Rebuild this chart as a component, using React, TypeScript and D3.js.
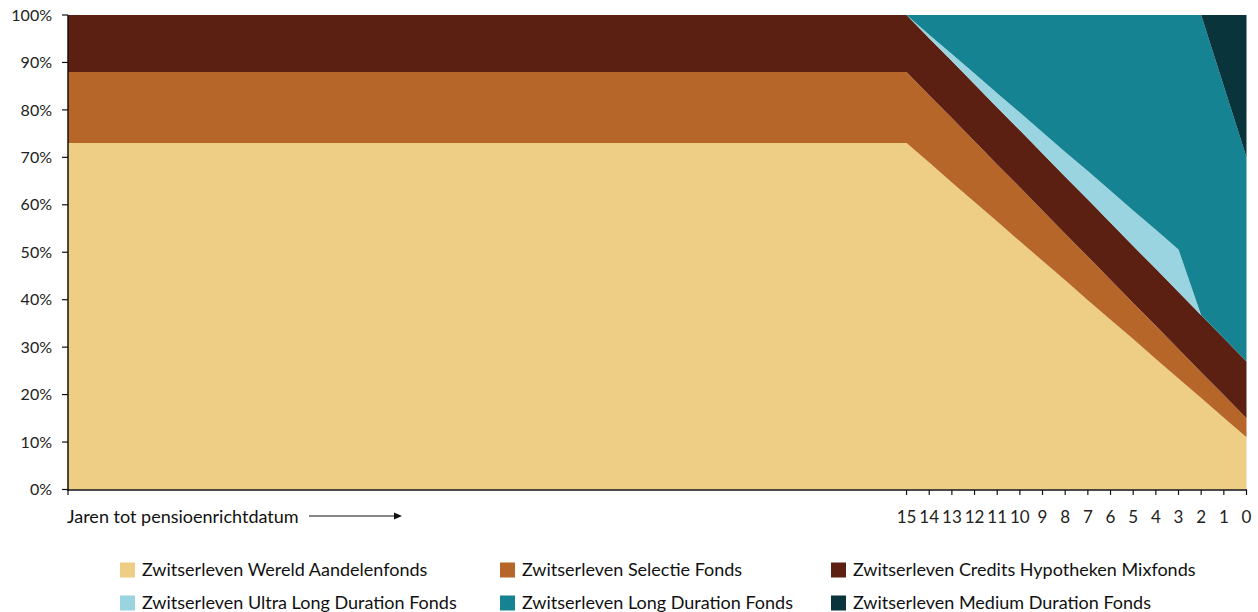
import React from "react";
import * as d3 from "d3";

const years = [52, 15, 14, 13, 12, 11, 10, 9, 8, 7, 6, 5, 4, 3, 2, 1, 0];
const wereld = [73, 73, 68.9, 64.7, 60.6, 56.5, 52.3, 48.2, 44.1, 39.9, 35.8, 31.7, 27.5, 23.4, 19.3, 15.1, 11];
const selectie = [15, 15, 14.2, 13.6, 12.8, 12, 11.4, 10.6, 9.8, 9.2, 8.4, 7.6, 7, 6.2, 5.4, 4.8, 4];
const credits = [12, 12, 12, 12, 12, 12, 12, 12, 12, 12, 12, 12, 12, 12, 12, 12, 12];
const ultraLong = [0, 0, 0.75, 1.5, 2.25, 3, 3.75, 4.5, 5.25, 6, 6.75, 7.5, 8.25, 9, 0, 0, 0];
const medium = [0, 0, 0, 0, 0, 0, 0, 0, 0, 0, 0, 0, 0, 0, 0, 15, 30];
const longDur = years.map(
  (_, i) => 100 - wereld[i] - selectie[i] - credits[i] - ultraLong[i] - medium[i]
);

const xTicks = [15, 14, 13, 12, 11, 10, 9, 8, 7, 6, 5, 4, 3, 2, 1, 0];
const yTicks = [0, 10, 20, 30, 40, 50, 60, 70, 80, 90, 100];

const seriesNames = [
  "Zwitserleven Wereld Aandelenfonds",
  "Zwitserleven Selectie Fonds",
  "Zwitserleven Credits Hypotheken Mixfonds",
  "Zwitserleven Ultra Long Duration Fonds",
  "Zwitserleven Long Duration Fonds",
  "Zwitserleven Medium Duration Fonds",
];
const colors = ["#EECD84", "#B66628", "#5B2012", "#9AD4E1", "#168393", "#0A343B"];
const keys = ["wereld", "selectie", "credits", "ultra", "long", "medium"];

export default function App() {
  const W = 1258;
  const H = 612;
  const x = d3.scaleLinear().domain([52, 0]).range([68, 1246.5]);
  const y = d3.scaleLinear().domain([0, 100]).range([489.5, 15]);

  const rows = years.map((yr, i) => ({
    year: yr,
    wereld: wereld[i],
    selectie: selectie[i],
    credits: credits[i],
    ultra: ultraLong[i],
    long: longDur[i],
    medium: medium[i],
  }));
  const stacked = d3.stack<any>().keys(keys)(rows);
  const area = d3
    .area<any>()
    .x((d) => x(d.data.year))
    .y0((d) => y(d[0]))
    .y1((d) => y(d[1]));

  const font = "Lato, 'Noto Sans', sans-serif";
  const legendCols = [120, 500, 831];
  const legendRows = [570, 603];

  return (
    <svg
      width={W}
      height={H}
      style={{ position: "absolute", left: 0, top: 0, background: "#fff" }}
      fontFamily={font}
    >
      {stacked.map((s, i) => (
        <path key={keys[i]} d={area(s) || ""} fill={colors[i]} />
      ))}
      {/* y axis */}
      <line x1={68} x2={68} y1={15} y2={490.5} stroke="#111" strokeWidth={1.5} />
      {yTicks.map((t) => (
        <g key={t} transform={`translate(0,${y(t)})`}>
          <line x1={62} x2={68} stroke="#111" strokeWidth={1.2} />
          <text x={52} dy="0.35em" textAnchor="end" fontSize={16} fill="#222">
            {t}%
          </text>
        </g>
      ))}
      {/* x axis */}
      <line x1={67} x2={1247} y1={490} y2={490} stroke="#111" strokeWidth={1.5} />
      <line x1={68} x2={68} y1={490} y2={495} stroke="#111" strokeWidth={1.2} />
      {xTicks.map((t) => (
        <g key={t} transform={`translate(${x(t)},0)`}>
          <line y1={490} y2={495} stroke="#111" strokeWidth={1.2} />
          <text y={523} textAnchor="middle" fontSize={17} fill="#222">
            {t}
          </text>
        </g>
      ))}
      <text x={67} y={523} fontSize={18} fill="#111">
        Jaren tot pensioenrichtdatum
      </text>
      <line x1={309} x2={396} y1={516} y2={516} stroke="#111" strokeWidth={1.2} />
      <path d="M402,516 L394,512.5 L394,519.5 Z" fill="#111" />
      {/* legend */}
      {seriesNames.map((n, i) => {
        const cx = legendCols[i % 3];
        const cy = legendRows[Math.floor(i / 3)];
        return (
          <g key={n}>
            <rect x={cx} y={cy - 7.5} width={15} height={15} fill={colors[i]} />
            <text x={cx + 22} y={cy} dy="0.35em" fontSize={18} fill="#111">
              {n}
            </text>
          </g>
        );
      })}
    </svg>
  );
}
